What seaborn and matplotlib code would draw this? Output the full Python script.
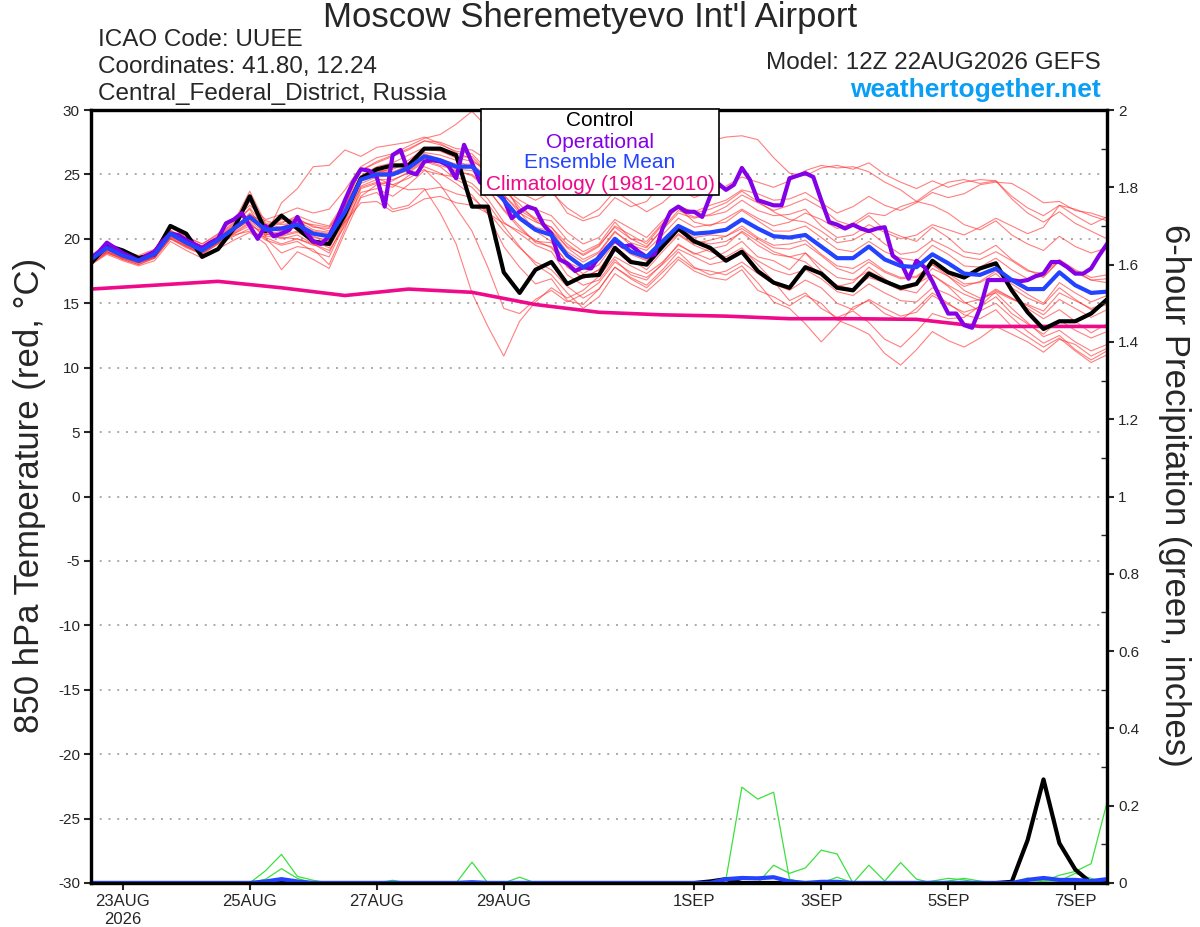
import matplotlib
matplotlib.use('Agg')
import matplotlib.pyplot as plt
from matplotlib.patches import Rectangle
import seaborn as sns
import pandas as pd
import numpy as np

# dados (850 hPa, 6 em 6 horas a partir de 12Z 22AUG)
controle = [18.1, 19.5, 19.1, 18.5, 18.8, 21.0, 20.4, 18.6, 19.2, 20.8,
            23.3, 20.6, 21.8, 20.8, 19.8, 19.6, 21.9, 24.7, 25.4, 25.7,
            25.7, 27.0, 27.0, 26.5, 22.5, 22.5, 17.4, 15.8, 17.6, 18.2,
            16.5, 17.1, 17.2, 19.3, 18.2, 18.0, 19.4, 20.8, 19.8, 19.3,
            18.3, 19.0, 17.5, 16.6, 16.2, 17.8, 17.3, 16.2, 16.0, 17.3,
            16.7, 16.2, 16.5, 18.3, 17.4, 17.0, 17.7, 18.1, 16.0, 14.3,
            13.0, 13.6, 13.6, 14.2, 15.3]

media = [18.4, 19.3, 18.7, 18.3, 18.8, 20.4, 19.7, 19.1, 19.9, 20.8,
         21.7, 20.7, 20.8, 21.1, 20.4, 20.2, 22.1, 24.6, 25.0, 25.0,
         25.5, 26.4, 26.1, 25.6, 25.6, 24.5, 23.0, 21.6, 20.7, 20.3,
         18.7, 17.8, 18.5, 20.0, 19.0, 18.6, 19.8, 21.0, 20.4, 20.5,
         20.7, 21.5, 20.8, 20.2, 20.1, 20.3, 19.4, 18.5, 18.5, 19.4,
         18.4, 17.9, 17.8, 18.8, 18.1, 17.3, 17.2, 17.7, 16.8, 16.1,
         16.1, 17.4, 16.4, 15.8, 15.9]

# operacional vem de 3 em 3 horas
operacional = [18.5, 19.0, 19.7, 19.3, 18.9, 18.6, 18.3, 18.7, 19.0, 19.8,
               20.4, 20.3, 19.9, 19.6, 19.3, 19.7, 20.0, 21.2, 21.5, 22.0,
               21.0, 20.0, 21.0, 20.2, 20.4, 20.7, 21.7, 20.6, 19.8, 19.6,
               20.2, 21.5, 23.0, 24.4, 25.4, 25.3, 24.8, 22.5, 26.5, 26.9,
               25.2, 25.0, 26.0, 26.1, 26.0, 25.7, 24.7, 27.3, 25.9, 24.4,
               24.0, 23.6, 23.1, 21.6, 22.1, 22.5, 22.3, 21.1, 20.4, 18.4,
               18.1, 17.5, 17.8, 17.7, 18.6, 19.3, 19.9, 19.4, 19.5, 19.0,
               18.6, 18.8, 20.8, 22.1, 22.5, 22.1, 22.1, 21.7, 23.3, 24.3,
               23.8, 24.2, 25.5, 24.6, 23.0, 22.8, 22.6, 22.6, 24.7, 24.9,
               25.1, 24.8, 23.0, 21.3, 21.1, 20.8, 21.1, 20.8, 20.6, 20.8,
               20.9, 18.7, 18.2, 16.9, 18.3, 17.8, 16.7, 15.4, 14.2, 14.2,
               13.3, 13.1, 14.6, 16.8, 16.8, 16.8, 16.8, 16.7, 16.8, 17.1,
               17.3, 18.2, 18.2, 17.8, 17.3, 17.3, 17.7, 18.7, 19.6]

# climatologia diaria (12Z)
climatologia = [16.1, 16.4, 16.7, 16.2, 15.6, 16.1, 15.85, 14.9, 14.3,
                14.1, 14.0, 13.8, 13.8, 13.75, 13.2, 13.2, 13.2]

m01 = [18.6, 19.5, 19.0, 18.6, 19.1, 20.9, 20.2, 19.6, 20.4, 21.5,
       22.6, 21.5, 21.9, 22.4, 22.0, 22.3, 23.8, 25.6, 26.3, 26.6,
       27.2, 27.8, 28.1, 28.9, 29.9, 28.6, 27.0, 25.8, 24.4, 23.8,
       22.0, 21.4, 21.8, 23.2, 22.5, 22.9, 24.4, 25.8, 26.3, 27.6,
       27.9, 28.0, 27.7, 26.3, 25.1, 24.9, 25.5, 25.7, 25.4, 25.9,
       25.0, 24.4, 23.9, 24.5, 24.0, 24.4, 24.6, 24.5, 23.3, 22.4,
       21.8, 22.6, 22.3, 21.8, 21.4]
m02 = [18.2, 19.0, 18.5, 18.1, 18.6, 20.1, 19.4, 18.9, 19.7, 20.6,
       21.9, 20.3, 20.6, 21.3, 20.1, 19.9, 22.4, 24.9, 24.7, 24.2,
       23.8, 23.9, 22.0, 19.6, 15.8, 13.2, 10.9, 13.6, 15.1, 16.2,
       15.4, 16.0, 17.1, 18.6, 17.9, 17.3, 18.2, 19.5, 18.9, 18.4,
       19.0, 19.8, 18.6, 18.3, 17.6, 18.9, 17.5, 16.3, 16.6, 17.8,
       16.9, 16.1, 15.8, 17.2, 16.4, 15.7, 15.2, 16.0, 15.4, 14.8,
       14.1, 15.3, 14.6, 13.9, 14.5]
m03 = [18.5, 19.4, 18.9, 18.4, 18.9, 20.6, 20.0, 19.4, 20.2, 21.2,
       22.3, 20.2, 22.8, 23.9, 25.6, 25.7, 26.9, 26.4, 27.1, 27.3,
       27.5, 27.9, 27.4, 26.7, 26.2, 25.0, 23.4, 22.2, 21.5, 20.9,
       19.6, 18.7, 19.4, 21.0, 20.3, 19.6, 21.1, 22.6, 22.0, 22.3,
       22.8, 23.7, 22.9, 22.1, 21.5, 21.3, 20.6, 19.7, 19.9, 20.6,
       19.6, 18.8, 19.0, 19.9, 19.3, 18.6, 18.4, 19.0, 18.3, 17.5,
       17.3, 18.4, 17.6, 17.0, 17.2]
m04 = [18.0, 18.8, 18.3, 17.9, 18.3, 19.8, 19.1, 18.5, 19.2, 19.9,
       20.5, 19.6, 17.6, 19.0, 18.4, 17.7, 20.5, 23.2, 23.6, 22.3,
       22.6, 23.8, 24.0, 23.5, 23.2, 22.1, 20.6, 19.3, 18.2, 17.6,
       16.3, 15.4, 16.1, 17.8, 16.9, 16.2, 17.4, 18.6, 17.7, 17.5,
       17.2, 17.9, 16.6, 15.1, 14.6, 13.4, 12.0, 13.3, 14.7, 15.2,
       14.2, 13.7, 14.6, 15.8, 15.0, 14.1, 13.8, 14.5, 13.2, 12.4,
       11.6, 12.3, 11.3, 10.4, 11.0]
m05 = [18.7, 19.6, 19.1, 18.7, 19.2, 21.0, 20.1, 19.6, 20.3, 21.3,
       23.7, 21.2, 21.3, 21.6, 20.9, 20.8, 22.6, 25.3, 25.9, 26.4,
       26.9, 27.6, 27.3, 26.8, 26.6, 25.3, 24.0, 22.4, 21.6, 21.4,
       19.9, 19.0, 19.6, 21.3, 20.0, 19.4, 20.7, 22.0, 21.6, 21.9,
       22.5, 23.4, 22.8, 22.2, 22.6, 23.1, 22.4, 21.4, 21.0, 21.8,
       20.7, 20.2, 19.8, 20.9, 20.1, 19.0, 18.8, 19.5, 18.4, 17.6,
       17.0, 18.3, 17.4, 16.8, 16.6]
m06 = [18.3, 19.1, 18.6, 18.2, 18.6, 20.2, 19.5, 19.0, 19.7, 20.4,
       21.0, 20.5, 20.2, 20.5, 19.9, 19.3, 21.5, 24.1, 24.6, 24.6,
       25.1, 26.0, 25.6, 24.6, 24.0, 22.7, 21.0, 19.4, 18.0, 17.2,
       15.8, 14.6, 15.5, 17.3, 16.5, 15.9, 17.0, 18.4, 17.5, 17.0,
       16.8, 17.6, 16.0, 15.5, 14.8, 15.6, 15.0, 13.7, 13.2, 12.6,
       11.1, 10.2, 11.4, 12.8, 12.1, 11.6, 12.3, 13.2, 12.6, 12.0,
       11.2, 12.2, 11.8, 10.9, 11.5]
m07 = [18.4, 19.2, 18.8, 18.4, 18.7, 20.5, 19.8, 19.2, 20.0, 20.7,
       21.6, 21.0, 20.6, 20.9, 20.5, 20.3, 22.0, 24.5, 25.2, 25.4,
       25.9, 26.7, 26.5, 26.1, 25.5, 24.6, 23.9, 23.0, 22.3, 21.8,
       20.5, 19.6, 20.1, 21.5, 20.8, 20.1, 21.4, 22.4, 21.3, 21.0,
       21.6, 22.3, 21.6, 21.0, 21.3, 22.0, 21.5, 20.8, 21.2, 22.0,
       21.8, 22.5, 22.9, 23.8, 24.4, 24.6, 24.3, 24.5, 23.1, 22.0,
       21.3, 22.1, 21.2, 20.6, 20.0]
m08 = [18.1, 18.9, 18.4, 18.0, 18.5, 20.0, 19.3, 18.8, 19.6, 20.2,
       20.8, 19.9, 19.5, 19.8, 19.0, 18.6, 21.2, 23.6, 23.9, 23.3,
       24.2, 25.3, 25.0, 24.8, 24.3, 23.1, 21.3, 20.4, 19.5, 19.0,
       17.2, 16.4, 16.8, 18.4, 17.2, 16.8, 18.1, 19.6, 18.8, 19.2,
       19.5, 20.6, 19.8, 19.0, 18.6, 18.2, 17.2, 16.4, 16.1, 17.0,
       16.6, 16.0, 16.4, 17.7, 17.1, 16.3, 16.7, 17.5, 16.5, 15.7,
       15.0, 16.6, 15.8, 15.1, 15.6]
m09 = [18.6, 19.4, 18.8, 18.3, 18.9, 20.5, 19.9, 19.3, 20.1, 20.9,
       21.8, 21.4, 21.1, 21.3, 21.1, 20.9, 22.6, 24.9, 25.6, 25.9,
       26.5, 27.1, 26.9, 26.3, 26.0, 25.4, 24.6, 23.6, 23.0, 23.6,
       22.4, 21.6, 22.3, 23.7, 22.9, 22.1, 22.8, 23.9, 23.2, 23.7,
       24.1, 24.8, 24.4, 24.0, 24.5, 25.3, 25.7, 25.5, 25.6, 25.2,
       24.4, 23.8, 22.9, 22.6, 22.0, 21.1, 20.7, 21.4, 20.3, 19.6,
       19.1, 20.2, 19.4, 18.9, 19.3]
m10 = [18.2, 19.0, 18.6, 18.2, 18.7, 20.2, 19.6, 19.0, 19.8, 20.5,
       21.3, 20.0, 18.9, 19.4, 19.2, 18.0, 20.8, 23.9, 24.3, 24.0,
       24.9, 25.6, 25.1, 24.3, 23.4, 21.9, 19.4, 17.8, 16.5, 16.9,
       15.2, 14.9, 16.1, 17.8, 17.0, 16.4, 17.6, 19.0, 17.8, 17.2,
       17.5, 18.2, 17.3, 16.5, 16.0, 16.8, 16.2, 15.0, 14.5, 15.3,
       14.6, 14.0, 14.3, 15.6, 14.9, 14.3, 14.7, 15.5, 14.2, 13.4,
       12.6, 13.7, 12.9, 12.3, 12.8]
m11 = [18.5, 19.3, 18.7, 18.3, 18.9, 20.3, 19.7, 19.1, 19.9, 20.8,
       22.0, 21.0, 21.5, 21.4, 20.7, 20.5, 22.5, 24.8, 25.3, 25.2,
       25.7, 26.6, 26.2, 25.8, 25.8, 24.8, 23.4, 22.0, 21.3, 20.9,
       19.3, 18.4, 19.0, 20.6, 19.5, 19.1, 20.3, 21.6, 20.9, 21.1,
       21.3, 22.2, 21.4, 20.6, 20.6, 21.0, 20.1, 19.2, 19.0, 19.8,
       19.0, 18.5, 18.3, 19.5, 18.8, 17.9, 17.8, 18.5, 17.6, 16.9,
       17.1, 18.3, 17.5, 16.8, 16.9]
m12 = [18.3, 19.2, 18.5, 18.1, 18.6, 20.3, 19.5, 19.0, 19.8, 20.6,
       21.5, 20.6, 20.3, 20.6, 20.2, 19.8, 21.3, 22.8, 22.9, 22.1,
       22.4, 23.1, 23.3, 22.8, 22.6, 22.0, 21.2, 20.6, 19.9, 19.3,
       17.8, 17.0, 17.6, 19.1, 18.3, 17.9, 19.3, 20.4, 19.6, 19.9,
       20.2, 21.0, 20.1, 19.5, 19.6, 19.9, 18.8, 17.9, 17.7, 18.4,
       17.5, 17.0, 17.1, 18.0, 17.1, 16.0, 15.4, 15.8, 14.6, 13.5,
       12.4, 12.9, 12.0, 11.3, 11.8]
m13 = [18.4, 19.3, 18.9, 18.5, 19.0, 20.7, 19.9, 19.3, 20.1, 21.0,
       22.9, 21.1, 20.9, 21.5, 21.0, 20.6, 22.2, 24.7, 25.1, 25.5,
       26.1, 27.0, 26.8, 26.3, 26.4, 25.1, 23.7, 22.7, 21.4, 20.6,
       19.0, 18.2, 18.9, 20.5, 19.7, 19.3, 20.8, 22.2, 21.7, 21.8,
       22.1, 23.0, 22.2, 21.8, 21.9, 22.3, 21.0, 20.1, 20.3, 21.1,
       20.5, 20.0, 20.3, 21.1, 20.7, 20.3, 20.9, 21.6, 21.0, 20.4,
       20.9, 22.6, 21.8, 21.1, 21.7]
m14 = [18.0, 18.9, 18.5, 18.2, 18.5, 20.1, 19.4, 18.9, 19.7, 20.3,
       20.6, 20.1, 19.6, 20.0, 19.6, 19.1, 21.0, 23.3, 24.2, 24.5,
       25.2, 26.1, 25.7, 25.3, 24.9, 23.8, 22.3, 21.0, 19.7, 19.4,
       17.9, 16.9, 17.6, 19.4, 18.4, 17.6, 19.0, 20.3, 19.5, 19.0,
       18.6, 19.3, 18.0, 16.7, 15.2, 15.8, 14.6, 13.9, 14.4, 13.5,
       12.2, 11.6, 12.8, 14.2, 13.8, 13.9, 14.8, 15.9, 15.3, 14.9,
       14.4, 15.8, 15.2, 14.6, 15.0]
m15 = [18.6, 19.5, 19.0, 18.5, 19.0, 20.6, 20.0, 19.4, 20.1, 21.1,
       22.4, 20.9, 21.2, 21.8, 21.3, 21.0, 22.9, 25.3, 26.0, 26.5,
       27.0, 27.6, 27.5, 27.0, 26.9, 26.1, 24.3, 22.1, 20.6, 19.8,
       18.1, 17.3, 18.0, 19.7, 18.8, 18.3, 19.6, 20.9, 20.1, 20.3,
       20.2, 20.8, 20.0, 19.3, 19.2, 19.6, 18.7, 17.7, 17.3, 18.2,
       17.4, 16.9, 17.0, 18.0, 17.3, 16.5, 16.6, 17.3, 16.2, 15.4,
       14.9, 16.2, 15.3, 14.5, 14.9]
m16 = [18.3, 19.1, 18.7, 18.3, 18.8, 20.4, 19.6, 19.1, 19.9, 20.7,
       21.4, 20.4, 20.0, 20.3, 19.6, 18.9, 21.4, 24.0, 24.4, 24.2,
       24.7, 25.4, 24.2, 22.4, 20.6, 17.8, 14.6, 14.2, 15.3, 16.0,
       15.1, 15.7, 16.6, 18.2, 17.4, 17.0, 18.0, 19.2, 18.6, 18.0,
       18.3, 19.1, 18.3, 17.6, 17.2, 17.6, 16.9, 15.9, 15.6, 16.5,
       15.8, 15.2, 15.1, 16.2, 15.7, 15.0, 15.3, 16.1, 15.4, 14.6,
       13.8, 14.5, 13.6, 12.7, 13.4]
m17 = [18.5, 19.4, 18.8, 18.4, 18.8, 20.5, 19.8, 19.2, 20.0, 20.9,
       21.9, 20.8, 20.9, 21.2, 20.6, 20.4, 22.3, 24.8, 25.2, 25.1,
       25.6, 26.3, 26.0, 25.4, 25.3, 24.2, 22.9, 21.7, 20.9, 20.6,
       19.4, 18.8, 19.5, 20.9, 20.0, 19.8, 21.2, 22.5, 22.1, 22.6,
       23.0, 23.8, 23.5, 23.0, 23.1, 23.6, 22.8, 22.0, 22.5, 23.3,
       22.6, 22.2, 22.8, 23.6, 23.2, 23.5, 24.2, 24.4, 24.3, 23.6,
       22.8, 22.9, 22.2, 22.0, 21.6]
m18 = [18.2, 19.0, 18.4, 18.0, 18.5, 20.0, 19.4, 18.8, 19.6, 20.4,
       21.2, 20.2, 20.1, 20.0, 19.5, 19.5, 21.7, 24.3, 24.8, 24.9,
       25.3, 26.2, 25.9, 25.2, 25.0, 23.9, 22.2, 20.8, 19.8, 19.7,
       18.2, 17.6, 18.3, 19.8, 18.9, 18.4, 19.5, 20.6, 19.9, 19.6,
       19.8, 20.5, 19.5, 18.8, 18.6, 18.9, 17.9, 17.0, 16.8, 17.5,
       16.8, 16.3, 16.5, 17.2, 16.3, 15.1, 14.4, 15.0, 13.9, 12.8,
       11.9, 12.5, 11.4, 10.6, 11.3]
membros = [m01, m02, m03, m04, m05, m06, m07, m08, m09,
           m10, m11, m12, m13, m14, m15, m16, m17, m18]

# precipitacao 6h (polegadas)
chuva_controle = [0]*39 + [0.004, 0.01] + [0]*17 + [0.003, 0.111, 0.268, 0.103, 0.035, 0, 0]
chuva_media = ([0]*11 + [0.004, 0.01, 0.004] + [0]*10 + [0.002] + [0]*15
               + [0.01, 0.013, 0.012, 0.015, 0.004, 0, 0.003, 0.003] + [0]*11
               + [0.008, 0.013, 0.008, 0.008, 0.005, 0.01])
chuva_a = [0]*40 + [0.01, 0.248, 0.217, 0.235, 0.01] + [0]*20
chuva_b = [0]*43 + [0.046, 0.025, 0.039, 0.085, 0.075, 0, 0.046, 0.005, 0.053, 0.01] + [0]*12
chuva_c = ([0]*11 + [0.032, 0.074, 0.017, 0.007] + [0]*32 + [0.015]
           + [0]*6 + [0.005, 0.012, 0.005] + [0]*8)
chuva_d = ([0]*11 + [0.01, 0.037, 0.012] + [0]*46
           + [0.005, 0.02, 0.03, 0.05, 0.208])
chuva_e = ([0]*19 + [0.007] + [0]*4 + [0.054] + [0]*34
           + [0.013, 0.005, 0.005, 0.025, 0.012, 0])
chuva_f = [0]*27 + [0.015] + [0]*25 + [0.005, 0.012, 0.008] + [0]*9
chuvas = [chuva_a, chuva_b, chuva_c, chuva_d, chuva_e, chuva_f]

datas_ticks = ['2026-08-23', '2026-08-25', '2026-08-27', '2026-08-29',
               '2026-09-01', '2026-09-03', '2026-09-05', '2026-09-07']
rotulos_ticks = ['23AUG\n2026', '25AUG', '27AUG', '29AUG', '1SEP', '3SEP', '5SEP', '7SEP']
rotulos_chuva = ['0', '0.2', '0.4', '0.6', '0.8', '1', '1.2', '1.4', '1.6', '1.8', '2']

t6 = pd.date_range('2026-08-22 12:00', periods=65, freq='6h')
t3 = pd.date_range('2026-08-22 12:00', periods=129, freq='3h')
t24 = pd.date_range('2026-08-22 12:00', periods=17, freq='24h')

df_membros = pd.DataFrame({'tempo': np.tile(t6, len(membros)),
                           'temp': np.concatenate(membros),
                           'membro': np.repeat(np.arange(len(membros)), 65)})
df_chuva = pd.DataFrame({'tempo': np.tile(t6, len(chuvas)),
                         'chuva': np.concatenate(chuvas),
                         'membro': np.repeat(np.arange(len(chuvas)), 65)})

sns.set_style('ticks')
plt.rcParams['font.family'] = ['Liberation Sans', 'DejaVu Sans']
plt.rcParams['axes.unicode_minus'] = False

c_oper = '#8400E6'
c_media = '#2443FF'
c_clima = '#EE0A8A'

fig = plt.figure(figsize=(12, 9.27), dpi=100)
ax = fig.add_axes([91/1200, 44/927, 1016/1200, 773/927])

for y in range(-25, 30, 5):
    ax.axhline(y, color='#aaaaaa', lw=1.4, ls=(0, (1, 3.5)), zorder=0)

sns.lineplot(data=df_membros, x='tempo', y='temp', units='membro', estimator=None,
             color='#ff2a2a', lw=0.8, alpha=0.6, ax=ax, legend=False)
sns.lineplot(x=t24, y=climatologia, color=c_clima, lw=2.6, ax=ax)
sns.lineplot(x=t6, y=controle, color='black', lw=3, ax=ax)
sns.lineplot(x=t3, y=operacional, color=c_oper, lw=3, ax=ax)
sns.lineplot(x=t6, y=media, color=c_media, lw=3, ax=ax)

ax.set_xlim(t6[0], t6[-1])
ax.set_ylim(-30, 30)
ax.set_yticks(range(-30, 31, 5))
ax.set_xticks(pd.to_datetime(datas_ticks))
ax.set_xticklabels(rotulos_ticks, fontsize=12)
ax.tick_params(axis='y', direction='out', length=5, width=1.5, labelsize=11, pad=3)
ax.tick_params(axis='x', direction='out', length=5, width=1.5, pad=3)
ax.set_xlabel('')
ax.set_ylabel('')

ax2 = ax.twinx()
sns.lineplot(data=df_chuva, x='tempo', y='chuva', units='membro', estimator=None,
             color='#3de03d', lw=0.9, ax=ax2, legend=False)
sns.lineplot(x=t6, y=chuva_controle, color='black', lw=3, ax=ax2)
sns.lineplot(x=t6, y=chuva_media, color=c_media, lw=3, ax=ax2)
ax2.set_ylim(0, 2)
ax2.set_xlim(t6[0], t6[-1])
ax2.set_yticks(np.arange(0, 2.01, 0.2))
ax2.set_yticklabels(rotulos_chuva)
ax2.set_yticks(np.arange(0.1, 2, 0.2), minor=True)
ax2.tick_params(axis='y', which='major', direction='out', length=5, width=1.5, labelsize=11, pad=3)
ax2.tick_params(axis='y', which='minor', direction='in', length=4, width=1)
ax2.set_ylabel('')

for a in (ax, ax2):
    for s in a.spines.values():
        s.set_linewidth(2.3)
        s.set_color('black')

# textos
fig.text(590/1200, 1 - 18/927, "Moscow Sheremetyevo Int'l Airport", ha='center', va='center', fontsize=25)
fig.text(98/1200, 1 - 40/927, 'ICAO Code: UUEE', ha='left', va='center', fontsize=17.5)
fig.text(98/1200, 1 - 67/927, 'Coordinates: 41.80, 12.24', ha='left', va='center', fontsize=17.5)
fig.text(98/1200, 1 - 94/927, 'Central_Federal_District, Russia', ha='left', va='center', fontsize=17.5)
fig.text(1101/1200, 1 - 63/927, 'Model: 12Z 22AUG2026 GEFS', ha='right', va='center', fontsize=17.5)
fig.text(1101/1200, 1 - 90/927, 'weathertogether.net', ha='right', va='center', fontsize=19,
         fontweight='bold', color='#0a9ef5')
fig.text(30/1200, 1 - 495/927, '850 hPa Temperature (red, °C)', rotation=90, ha='center', va='center', fontsize=25)
fig.text(1175/1200, 1 - 495/927, '6-hour Precipitation (green, inches)', rotation=270, ha='center', va='center', fontsize=25)

# caixa da legenda
fig.add_artist(Rectangle((481/1200, 1 - 195/927), 238/1200, 86/927, transform=fig.transFigure,
                         facecolor='white', edgecolor='black', lw=1.2, zorder=5))
for texto, cor, yy in [('Control', 'black', 121), ('Operational', c_oper, 142),
                       ('Ensemble Mean', c_media, 163), ('Climatology (1981-2010)', c_clima, 185)]:
    fig.text(600/1200, 1 - yy/927, texto, color=cor, ha='center', va='center', fontsize=15, zorder=6)

fig.savefig('out.png', dpi=100, facecolor='white')
